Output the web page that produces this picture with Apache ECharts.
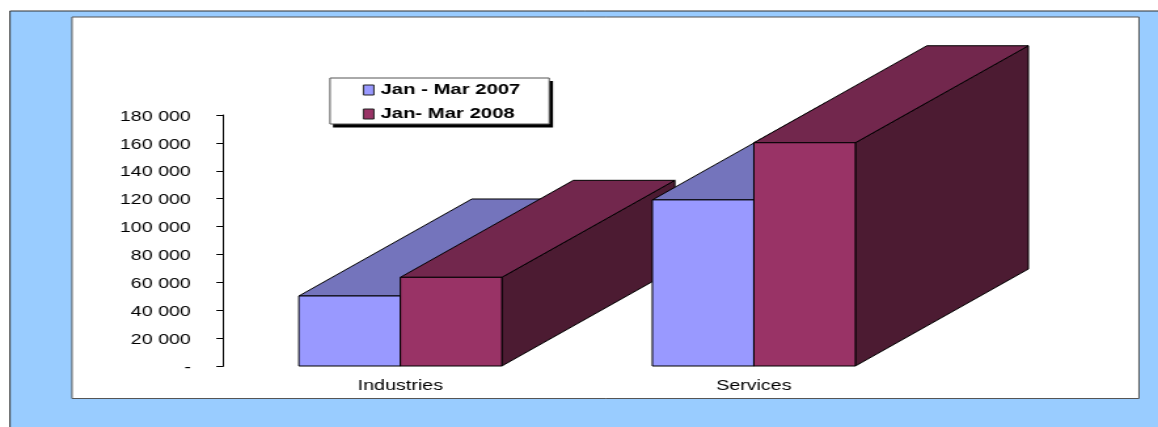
<!DOCTYPE html>
<html>
<head>
<meta charset="utf-8">
<style>
html,body{margin:0;padding:0;background:#fff;overflow:hidden;width:1158px;height:427px}
/* The reference picture is stretched horizontally; the same stretch is applied to the whole chart. */
#chart{position:absolute;left:0;top:0;height:427px;transform-origin:0 0}
</style>
<script src="https://cdn.jsdelivr.net/npm/echarts@6/dist/echarts.min.js"></script>
</head>
<body>
<div id="chart"></div>
<script>
const categories = ['Industries', 'Services'];
const seriesNames = ['Jan - Mar 2007', 'Jan- Mar 2008'];
const jan2007 = [50200, 119100];
const jan2008 = [63600, 160100];
const axisMax = 180000;
const axisStep = 20000;

const SX = 1.31;
const px = v => v / SX;
const el = document.getElementById('chart');
el.style.width = (1158 / SX) + 'px';
el.style.transform = 'scaleX(' + SX + ')';

const font = '"Liberation Sans", Arial, sans-serif';
const barW = px(101.5), depthX = px(173), depthY = -97;
const palette = [
  {front: '#9999FF', top: '#7474BC', side: '#4D4D80'},
  {front: '#993366', top: '#72274D', side: '#4C1B32'}
];

function renderBar(seriesIdx) {
  return function (params, api) {
    const cat = api.value(0);
    const base = api.coord([cat, 0]);
    const top = api.coord([cat, api.value(1)]);
    const x0 = base[0] + (seriesIdx - 1) * barW, x1 = x0 + barW;
    const y0 = base[1], y1 = top[1];
    const c = palette[seriesIdx];
    const order = cat * 10 + seriesIdx * 3;
    const face = (points, fill, z) => ({
      type: 'polygon', z2: order + z, silent: true,
      shape: {points: points},
      style: {fill: fill, stroke: '#000', lineWidth: 1, lineJoin: 'miter'}
    });
    return {
      type: 'group',
      children: [
        face([[x1, y0], [x1 + depthX, y0 + depthY], [x1 + depthX, y1 + depthY], [x1, y1]], c.side, 0),
        face([[x0, y1], [x1, y1], [x1 + depthX, y1 + depthY], [x0 + depthX, y1 + depthY]], c.top, 1),
        face([[x0, y0], [x1, y0], [x1, y1], [x0, y1]], c.front, 2)
      ]
    };
  };
}

function thousands(v) {
  if (v === 0) return '-';
  return String(Math.round(v / 1000)) + ' 000';
}

const chart = echarts.init(el, null, {renderer: 'canvas'});
chart.setOption({
  animation: false,
  backgroundColor: '#fff',
  graphic: [
    {type: 'rect', z: -20, silent: true,
     shape: {x: px(10), y: 11, width: px(1200), height: 440},
     style: {fill: '#99CCFF', stroke: '#333', lineWidth: 1}},
    {type: 'rect', z: -19, silent: true,
     shape: {x: px(72), y: 17, width: px(1067), height: 381.5},
     style: {fill: '#fff', stroke: '#555', lineWidth: 1}},
    {type: 'rect', z: -18, silent: true,
     shape: {x: px(333), y: 81, width: px(220), height: 46.5},
     style: {fill: '#000'}}
  ],
  legend: {
    show: true,
    orient: 'vertical',
    left: px(330), top: 78,
    padding: [4, 22, 2, 25],
    itemWidth: 8, itemHeight: 10, itemGap: 8,
    align: 'left',
    icon: 'rect',
    backgroundColor: '#fff',
    borderColor: '#555', borderWidth: 1,
    selectedMode: false,
    itemStyle: {borderColor: '#222', borderWidth: 1},
    textStyle: {fontFamily: font, fontWeight: 'bold', fontSize: 15.5, color: '#000'},
    data: seriesNames
  },
  grid: {left: px(223.6), top: 115, width: px(707), height: 251, containLabel: false},
  xAxis: {
    type: 'category', data: categories, boundaryGap: true,
    axisLine: {show: false}, axisTick: {show: false},
    axisLabel: {fontFamily: font, fontSize: 15, color: '#000', margin: 12}
  },
  yAxis: {
    type: 'value', min: 0, max: axisMax, interval: axisStep,
    splitLine: {show: false},
    axisLine: {show: true, lineStyle: {color: '#000', width: 1}},
    axisTick: {show: true, length: 5.5, lineStyle: {color: '#000', width: 1}},
    axisLabel: {fontFamily: font, fontSize: 15, color: '#000', margin: 25, verticalAlign: 'top', lineHeight: 15, padding: [-6, 0, 0, 0], formatter: thousands}
  },
  series: [
    {name: seriesNames[0], type: 'custom', renderItem: renderBar(0), silent: true,
     itemStyle: {color: palette[0].front}, encode: {x: 0, y: 1},
     data: jan2007.map((v, i) => [i, v])},
    {name: seriesNames[1], type: 'custom', renderItem: renderBar(1), silent: true,
     itemStyle: {color: palette[1].front}, encode: {x: 0, y: 1},
     data: jan2008.map((v, i) => [i, v])}
  ]
});
</script>
</body>
</html>
